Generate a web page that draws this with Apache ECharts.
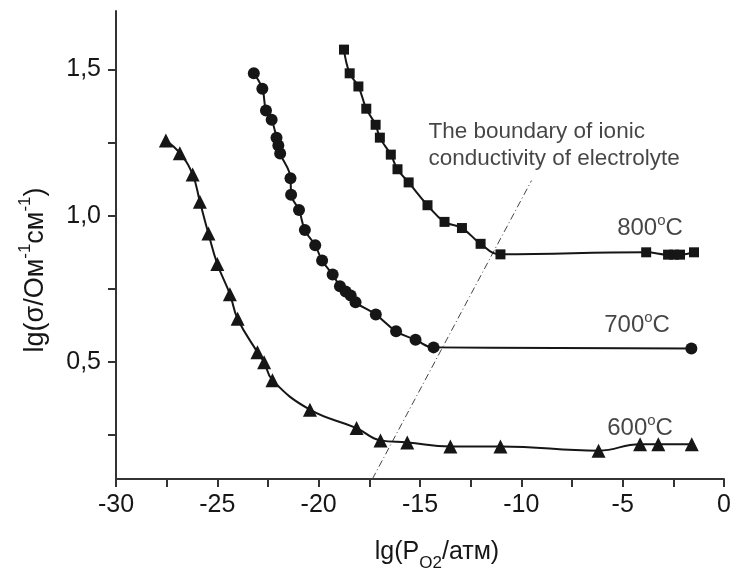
<!DOCTYPE html>
<html>
<head>
<meta charset="utf-8">
<script src="https://cdn.jsdelivr.net/npm/echarts@6/dist/echarts.min.js"></script>
<style>
  html, body { margin: 0; padding: 0; background: #fff; }
  #chart { width: 736px; height: 576px; }
</style>
</head>
<body>
<div id="chart"></div>
<script>
// lg(PO2), lg(sigma) pairs for each temperature
const t600x = [-27.54, -26.85, -26.22, -25.86, -25.44, -25.0, -24.38, -24.0, -23.02, -22.69, -22.28, -20.43, -18.13, -16.95, -15.63, -13.5, -11.03, -6.19, -4.14, -3.24, -1.59];
const t600y = [1.257, 1.214, 1.141, 1.048, 0.939, 0.835, 0.732, 0.648, 0.533, 0.499, 0.438, 0.337, 0.274, 0.232, 0.225, 0.211, 0.211, 0.197, 0.219, 0.219, 0.219];

const t700x = [-23.20, -22.78, -22.60, -22.32, -22.08, -21.99, -21.90, -21.39, -21.36, -20.97, -20.68, -20.17, -19.83, -19.31, -18.95, -18.67, -18.42, -18.18, -17.18, -16.18, -15.22, -14.33, -1.61];
const t700y = [1.487, 1.434, 1.360, 1.328, 1.267, 1.240, 1.213, 1.128, 1.072, 1.020, 0.951, 0.899, 0.847, 0.799, 0.759, 0.741, 0.727, 0.704, 0.662, 0.605, 0.576, 0.550, 0.546];

const t800x = [-18.75, -18.47, -18.04, -17.65, -17.19, -16.98, -16.44, -16.11, -15.56, -14.63, -13.79, -12.93, -12.01, -11.03, -3.84, -2.76, -2.46, -2.17, -1.48];
const t800y = [1.568, 1.487, 1.442, 1.366, 1.311, 1.267, 1.209, 1.159, 1.114, 1.036, 0.979, 0.958, 0.904, 0.868, 0.875, 0.867, 0.867, 0.867, 0.875];

// boundary of the electrolyte's ionic conductivity
const boundaryX = [-17.35, -9.5];
const boundaryY = [0.1, 1.12];

// curve labels
const tempNames = ['800', '700', '600'];
const tempLabelX = [-3.65, -4.29, -4.14];
const tempLabelY = [0.956, 0.624, 0.272];

const noteText = ['The boundary of ionic', 'conductivity of electrolyte'];
const noteX = -14.58;
const noteY = 1.24;

// axis ticks
const xLabels = [-30, -25, -20, -15, -10, -5, 0];
const xTicks = [-30, -27.5, -25, -22.5, -20, -17.5, -15, -12.5, -10, -7.5, -5, -2.5, 0];
const yLabels = [0.5, 1.0, 1.5];
const yTicks = [0.25, 0.5, 0.75, 1.0, 1.25, 1.5];

const zip = (xs, ys) => xs.map((x, i) => [x, ys[i]]);

const FONT = '"Liberation Sans", Arial, Helvetica, sans-serif';
const INK = '#161616';

function curve(name, xs, ys, symbol, size) {
  return {
    name: name,
    type: 'line',
    data: zip(xs, ys),
    smooth: 0.45,
    symbol: symbol,
    symbolSize: size,
    showAllSymbol: true,
    lineStyle: { color: INK, width: 2 },
    itemStyle: { color: INK },
    z: 3
  };
}

const chart = echarts.init(document.getElementById('chart'), null, { renderer: 'canvas' });

chart.setOption({
  animation: false,
  backgroundColor: '#fff',
  textStyle: { fontFamily: FONT },
  grid: { left: 116, right: 12, top: 11, bottom: 97, containLabel: false },
  xAxis: {
    type: 'value',
    min: -30,
    max: 0,
    axisLine: { show: true, onZero: false, lineStyle: { color: '#333', width: 2 } },
    axisTick: { show: true, inside: false, length: 8, customValues: xTicks, lineStyle: { color: '#333', width: 2 } },
    axisLabel: {
      customValues: xLabels,
      fontSize: 25, color: INK, fontFamily: FONT, margin: 14,
      formatter: v => String(v)
    },
    splitLine: { show: false }
  },
  yAxis: {
    type: 'value',
    min: 0.1,
    max: 1.7,
    axisLine: { show: true, onZero: false, lineStyle: { color: '#333', width: 2 } },
    axisTick: { show: true, inside: false, length: 8, customValues: yTicks, lineStyle: { color: '#333', width: 2 } },
    axisLabel: {
      customValues: yLabels,
      fontSize: 25, color: INK, fontFamily: FONT, margin: 15,
      formatter: v => v.toFixed(1).replace('.', ',')
    },
    splitLine: { show: false }
  },
  graphic: [
    {
      type: 'text',
      x: 437, y: 552,
      style: {
        text: '{a|lg(P}{s|O2}{a|/атм)}',
        align: 'center', verticalAlign: 'middle',
        fill: INK,
        rich: {
          a: { fontSize: 25, fontFamily: FONT, lineHeight: 40, fill: INK },
          s: { fontSize: 17, fontFamily: FONT, lineHeight: 14, verticalAlign: 'bottom', fill: INK }
        }
      }
    },
    {
      type: 'text',
      x: 36, y: 270,
      rotation: Math.PI / 2,
      style: {
        text: '{a|lg(σ/Ом}{s|-1}{a|см}{s|-1}{a|)}',
        align: 'center', verticalAlign: 'middle',
        fill: INK,
        rich: {
          a: { fontSize: 27, fontFamily: FONT, lineHeight: 38, fill: INK },
          s: { fontSize: 17, fontFamily: FONT, lineHeight: 14, verticalAlign: 'top', fill: INK }
        }
      }
    }
  ],
  series: [
    curve('600°C', t600x, t600y, 'triangle', 14),
    curve('700°C', t700x, t700y, 'circle', 12),
    curve('800°C', t800x, t800y, 'rect', 10),
    {
      name: 'boundary',
      type: 'line',
      data: zip(boundaryX, boundaryY),
      symbol: 'none',
      lineStyle: { color: '#444', width: 1, type: [7, 3, 1, 3] },
      z: 2
    },
    {
      name: 'temperatures',
      type: 'scatter',
      symbolSize: 0,
      data: tempNames.map((t, i) => ({ value: [tempLabelX[i], tempLabelY[i]], name: t })),
      label: {
        show: true,
        position: 'inside',
        formatter: p => '{t|' + p.name + '}{o|o}{t|C}',
        rich: {
          t: { fontSize: 24, fontFamily: FONT, color: INK, lineHeight: 30 },
          o: { fontSize: 15, fontFamily: FONT, color: INK, lineHeight: 14, verticalAlign: 'top' }
        }
      },
      z: 4
    },
    {
      name: 'note',
      type: 'scatter',
      symbolSize: 0,
      data: [[noteX, noteY]],
      label: {
        show: true,
        position: 'right',
        distance: 0,
        align: 'left',
        verticalAlign: 'middle',
        formatter: () => noteText.join('\n'),
        fontSize: 22.5,
        lineHeight: 27,
        fontFamily: FONT,
        color: INK
      },
      z: 4
    }
  ]
});
</script>
</body>
</html>
